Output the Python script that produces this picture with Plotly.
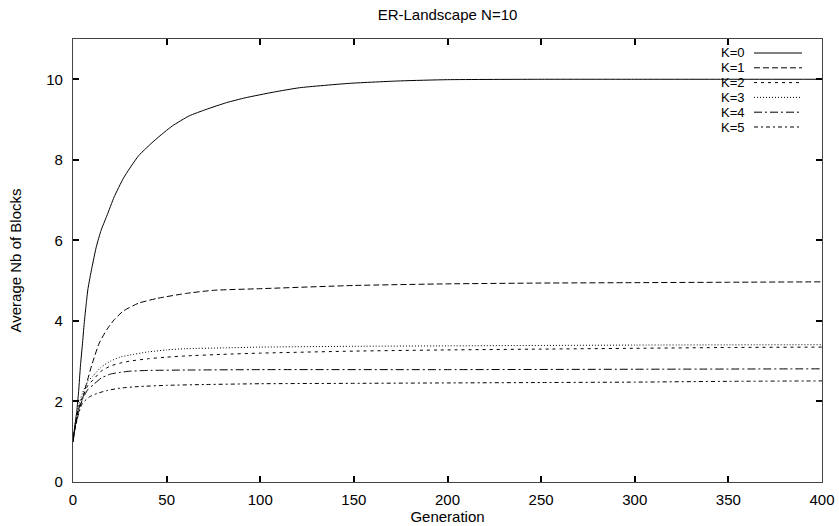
import plotly.graph_objects as go

title_text = "ER-Landscape N=10"
x_title = "Generation"
y_title = "Average Nb of Blocks"

series_names = ["K=0", "K=1", "K=2", "K=3", "K=4", "K=5"]

gen_k0 = [0, 1, 2, 3, 4, 5, 6, 7, 8, 10, 12.5, 15, 18, 22, 27, 35, 44, 53, 62, 71, 82, 92, 107, 121, 148, 175, 200, 250, 300, 350, 400]
val_k0 = [1.0, 1.4, 1.75, 2.25, 2.9, 3.4, 3.95, 4.4, 4.8, 5.3, 5.85, 6.25, 6.6, 7.08, 7.55, 8.1, 8.5, 8.84, 9.09, 9.25, 9.42, 9.54, 9.68, 9.79, 9.9, 9.96, 9.99, 10.0, 10.0, 10.0, 10.0]

gen_k1 = [0, 1, 3, 5, 7, 10, 14, 18, 22, 27, 35, 45, 60, 75, 100, 150, 200, 250, 300, 350, 400]
val_k1 = [1.0, 1.3, 1.75, 2.05, 2.4, 2.9, 3.45, 3.78, 4.03, 4.25, 4.44, 4.56, 4.68, 4.76, 4.8, 4.88, 4.92, 4.94, 4.95, 4.96, 4.97]

gen_k2 = [0, 1, 3, 5, 8, 11, 15, 20, 25, 30, 40, 50, 60, 80, 100, 150, 200, 250, 300, 350, 400]
val_k2 = [1.0, 1.35, 1.85, 2.1, 2.4, 2.55, 2.75, 2.88, 2.95, 3.0, 3.06, 3.1, 3.13, 3.17, 3.2, 3.25, 3.28, 3.3, 3.32, 3.34, 3.35]

gen_k3 = [0, 1, 3, 5, 8, 11, 15, 20, 25, 30, 40, 50, 60, 80, 100, 150, 200, 300, 400]
val_k3 = [1.0, 1.4, 1.9, 2.2, 2.5, 2.65, 2.85, 3.0, 3.1, 3.15, 3.23, 3.28, 3.31, 3.33, 3.35, 3.37, 3.38, 3.4, 3.41]

gen_k4 = [0, 1, 3, 5, 8, 11, 15, 20, 25, 30, 40, 60, 100, 200, 300, 400]
val_k4 = [1.0, 1.35, 1.8, 2.05, 2.3, 2.42, 2.58, 2.68, 2.72, 2.75, 2.77, 2.78, 2.79, 2.79, 2.8, 2.81]

gen_k5 = [0, 1, 3, 5, 9, 13, 18, 25, 35, 50, 70, 100, 150, 200, 250, 300, 350, 400]
val_k5 = [1.0, 1.3, 1.7, 1.95, 2.12, 2.2, 2.27, 2.33, 2.37, 2.4, 2.42, 2.44, 2.45, 2.46, 2.47, 2.48, 2.5, 2.51]

x_ticks = [0, 50, 100, 150, 200, 250, 300, 350, 400]
y_ticks = [0, 2, 4, 6, 8, 10]

gens = [gen_k0, gen_k1, gen_k2, gen_k3, gen_k4, gen_k5]
vals = [val_k0, val_k1, val_k2, val_k3, val_k4, val_k5]
dashes = ["solid", "6px,3px", "3px,4px", "1px,2px", "8px,3px,2px,3px", "4px,3px,2px,3px"]

FONT = "Liberation Sans, Arial, sans-serif"
FS = 15
W, H = 839, 526
ML, MR, MT, MB = 73, 17, 39, 44
PW, PH = W - ML - MR, H - MT - MB

fig = go.Figure()
for name, g, v, d in zip(series_names, gens, vals, dashes):
    fig.add_trace(go.Scatter(x=g, y=v, mode="lines", name=name,
                             line=dict(color="black", width=1, dash=d,
                                       shape="spline", smoothing=0.5),
                             showlegend=False, hoverinfo="skip"))

# legend built as text + sample lines (gnuplot style: text left, sample right)
shapes = []
annotations = []
for i, (name, d) in enumerate(zip(series_names, dashes)):
    ypx = 53 + 14.8 * i
    yp = (H - MB - ypx) / PH
    annotations.append(dict(xref="paper", yref="paper", x=(746 - ML) / PW, y=yp,
                            text=name, showarrow=False, xanchor="right", yanchor="middle",
                            borderpad=0,
                            font=dict(family=FONT, size=13, color="black")))
    shapes.append(dict(type="line", xref="paper", yref="paper",
                       x0=(754 - ML) / PW, x1=(802 - ML) / PW, y0=yp, y1=yp,
                       line=dict(color="black", width=1, dash=d)))

axis_common = dict(showline=True, linecolor="#444", linewidth=1.2, mirror="ticks",
                   ticks="inside", ticklen=6, tickwidth=1.5, tickcolor="black",
                   showgrid=False, zeroline=False, automargin=False,
                   tickfont=dict(family=FONT, size=FS, color="black"))

fig.update_layout(
    width=W, height=H,
    margin=dict(l=ML, r=MR, t=MT, b=MB),
    paper_bgcolor="white", plot_bgcolor="white",
    font=dict(family=FONT, size=FS, color="black"),
    title=dict(text=title_text, x=0.5, xref="paper", y=1 - 15 / H, yanchor="middle",
               xanchor="center", font=dict(family=FONT, size=FS, color="black")),
    xaxis=dict(range=[0, 400], tickvals=x_ticks, ticklabelstandoff=4,
               title=dict(text=x_title, standoff=4, font=dict(family=FONT, size=FS)),
               **axis_common),
    yaxis=dict(range=[0, 11], tickvals=y_ticks, ticklabelstandoff=6,
               title=dict(text=y_title, standoff=20, font=dict(family=FONT, size=FS)),
               **axis_common),
    shapes=shapes,
    annotations=annotations,
)

fig.write_html("out.html", config={"displayModeBar": False},
               post_script="document.body.style.margin='0px';document.body.style.overflow='hidden';")
